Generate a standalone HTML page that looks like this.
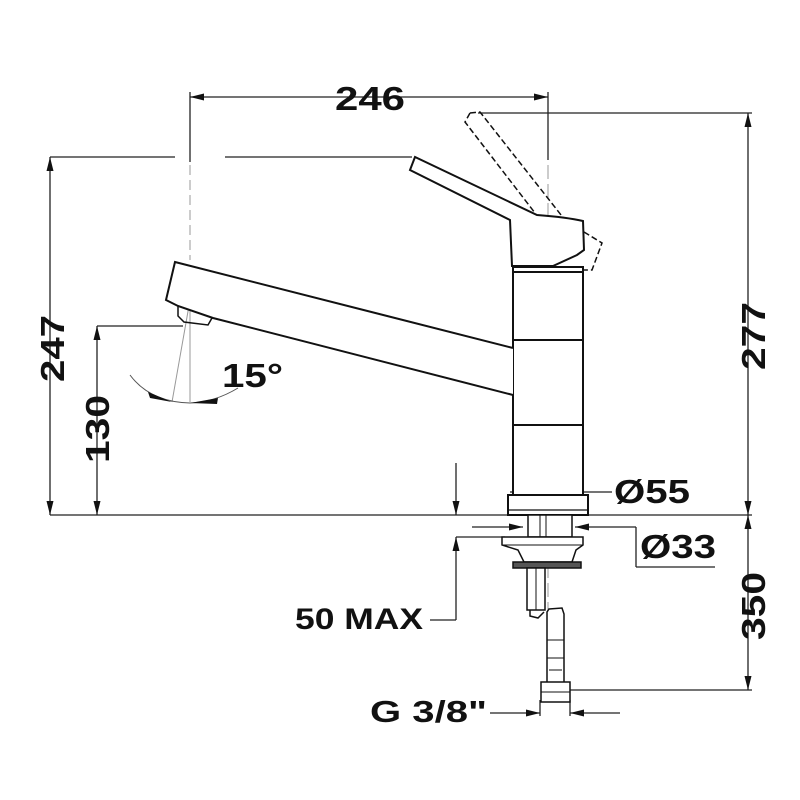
<!DOCTYPE html>
<html><head><meta charset="utf-8"><style>
html,body{margin:0;padding:0;background:#fff;}
svg{display:block;}
text{font-family:"Liberation Sans",sans-serif;font-weight:bold;fill:#111;}
</style></head><body>
<svg width="800" height="800" viewBox="0 0 800 800" xmlns="http://www.w3.org/2000/svg">
<defs>
<marker id="a" viewBox="0 0 10 10" refX="10" refY="5" markerWidth="14" markerHeight="7" markerUnits="userSpaceOnUse" orient="auto-start-reverse" preserveAspectRatio="none"><path d="M0,0 L10,5 L0,10 z" fill="#111"/></marker>
</defs>
<g stroke="#222" stroke-width="1.3" fill="none">
<!-- 246 -->
<line x1="190" y1="97" x2="548" y2="97" marker-start="url(#a)" marker-end="url(#a)"/>
<line x1="190" y1="92" x2="190" y2="162"/>
<line x1="548" y1="92" x2="548" y2="160"/>
<!-- 277 -->
<line x1="478" y1="113" x2="752" y2="113"/>
<line x1="748" y1="113" x2="748" y2="515" marker-start="url(#a)" marker-end="url(#a)"/>
<!-- 247 -->
<line x1="50" y1="157" x2="175" y2="157"/>
<line x1="225" y1="157" x2="412" y2="157"/>
<line x1="50" y1="157" x2="50" y2="515" marker-start="url(#a)" marker-end="url(#a)"/>
<!-- 130 -->
<line x1="97" y1="326" x2="183" y2="326"/>
<line x1="97" y1="326" x2="97" y2="515" marker-start="url(#a)" marker-end="url(#a)"/>
<!-- base line -->
<line x1="50" y1="515" x2="752" y2="515"/>
<!-- 50 MAX -->
<line x1="456" y1="463" x2="456" y2="515" marker-end="url(#a)"/>
<line x1="456" y1="537" x2="456" y2="620" marker-start="url(#a)"/>
<line x1="456" y1="537" x2="505" y2="537"/>
<line x1="430" y1="620" x2="456" y2="620"/>
<!-- Ø55 -->
<line x1="510" y1="492" x2="585" y2="492" marker-start="url(#a)" marker-end="url(#a)"/>
<line x1="585" y1="492" x2="612" y2="492"/>
<!-- Ø33 -->
<line x1="472" y1="527" x2="523" y2="527" marker-end="url(#a)"/>
<line x1="575" y1="527" x2="636" y2="527" marker-start="url(#a)"/>
<line x1="636" y1="527" x2="636" y2="567"/>
<line x1="636" y1="567" x2="715" y2="567"/>
<!-- 350 -->
<line x1="570" y1="690" x2="752" y2="690"/>
<line x1="748" y1="515" x2="748" y2="690" marker-start="url(#a)" marker-end="url(#a)"/>
<!-- G 3/8 -->
<line x1="490" y1="713" x2="540" y2="713" marker-end="url(#a)"/>
<line x1="570" y1="713" x2="620" y2="713" marker-start="url(#a)"/>
<line x1="540" y1="700" x2="540" y2="716"/><line x1="570" y1="700" x2="570" y2="716"/>
<!-- center lines dashed -->
<line x1="548" y1="165" x2="548" y2="700" stroke="#999" stroke-width="1" stroke-dasharray="14,5"/>
<line x1="190" y1="165" x2="190" y2="260" stroke="#999" stroke-width="1" stroke-dasharray="10,5"/>
<line x1="190" y1="300" x2="172" y2="402" stroke="#999" stroke-width="1"/>
<line x1="190" y1="300" x2="190" y2="402" stroke="#999" stroke-width="1"/>
<!-- 15° arc -->
<path d="M130,375 Q150,402 190,403 Q215,402 238,388" stroke="#555" stroke-width="1"/>
<path d="M148,392 L172,402 L150,398z" fill="#111" stroke="none"/>
<path d="M218,398 L190,403 L217,404z" fill="#111" stroke="none"/>

<g stroke="#111" stroke-width="2">
<!-- dashed raised lever -->
<path d="M470,113 L480,112 L565,220 M470,113 L465,122 L535,213" stroke-dasharray="6,3" stroke-width="1.5"/>
<path d="M584,232 L602,243 L592,270 L580,270" stroke-dasharray="6,3" stroke-width="1.5"/>
<!-- lever -->
<path d="M415,157 L410,170 L510,220 L512,266 L553,266 L577,255 L584,250 L583,221 C570,218 550,216 537,215 Z" fill="#fff"/>
<!-- body -->
<rect x="513" y="267" width="70" height="228" fill="#fff"/>
<line x1="513" y1="272" x2="583" y2="272"/>
<line x1="513" y1="340" x2="583" y2="340"/>
<line x1="513" y1="425" x2="583" y2="425"/>
<!-- spout -->
<path d="M513,348 L175,262 L166,300 L178,306 L213,318 L513,395" fill="#fff"/>
<path d="M178,306 L178,316 L184,322 L208,325 L212,318" stroke-width="1.5"/>
<!-- base plate -->
<rect x="508" y="495" width="80" height="20" fill="#fff"/>
<line x1="508" y1="510" x2="588" y2="510" stroke-width="1.2"/>
<!-- shank -->
<rect x="528" y="515" width="44" height="22" fill="#fff" stroke-width="1.5"/>
<line x1="540" y1="515" x2="540" y2="537" stroke-width="1"/>
<line x1="546" y1="515" x2="546" y2="537" stroke-width="1"/>
<path d="M502,537 L583,537 L583,545 L576,550 L572,562 L524,562 L518,550 L502,545 Z" fill="#fff" stroke-width="1.5"/>
<line x1="502" y1="545" x2="583" y2="545" stroke-width="1"/>
<rect x="513" y="562" width="68" height="6" fill="#555" stroke-width="1.5"/>
<rect x="527" y="568" width="18" height="42" fill="#fff" stroke-width="1.5"/>
<line x1="536" y1="568" x2="536" y2="610" stroke-width="1"/>
<path d="M530,610 L530,616 L538,618 L544,612" stroke-width="1.5"/>
<!-- hose -->
<path d="M549,609 L562,608 L564,614 L564,685 L547,685 L547,612 Z" fill="#fff" stroke-width="1.5"/>
<line x1="547" y1="640" x2="564" y2="640" stroke-width="1"/>
<line x1="547" y1="658" x2="564" y2="658" stroke-width="1"/>
<line x1="549" y1="670" x2="562" y2="670" stroke-width="1"/>
<rect x="541" y="682" width="29" height="20" fill="#fff" stroke-width="1.5"/>
<line x1="541" y1="692" x2="570" y2="692" stroke-width="1"/>
</g>
</g>
<!-- labels -->
<g font-size="33">
<text x="335" y="110" textLength="70" lengthAdjust="spacingAndGlyphs">246</text>
<text x="614" y="503" textLength="76" lengthAdjust="spacingAndGlyphs">Ø55</text>
<text x="640" y="558" textLength="76" lengthAdjust="spacingAndGlyphs">Ø33</text>
<text x="222" y="387" textLength="61" lengthAdjust="spacingAndGlyphs">15°</text>
<text x="295" y="629" font-size="30" textLength="128" lengthAdjust="spacingAndGlyphs">50 MAX</text>
<text x="370" y="722" font-size="31" textLength="117" lengthAdjust="spacingAndGlyphs">G 3/8"</text>
<text transform="translate(64,382) rotate(-90)" textLength="67" lengthAdjust="spacingAndGlyphs">247</text>
<text transform="translate(109,463) rotate(-90)" textLength="68" lengthAdjust="spacingAndGlyphs">130</text>
<text transform="translate(765,370) rotate(-90)" textLength="68" lengthAdjust="spacingAndGlyphs">277</text>
<text transform="translate(765,640) rotate(-90)" textLength="68" lengthAdjust="spacingAndGlyphs">350</text>
</g>
</svg>
</body></html>
